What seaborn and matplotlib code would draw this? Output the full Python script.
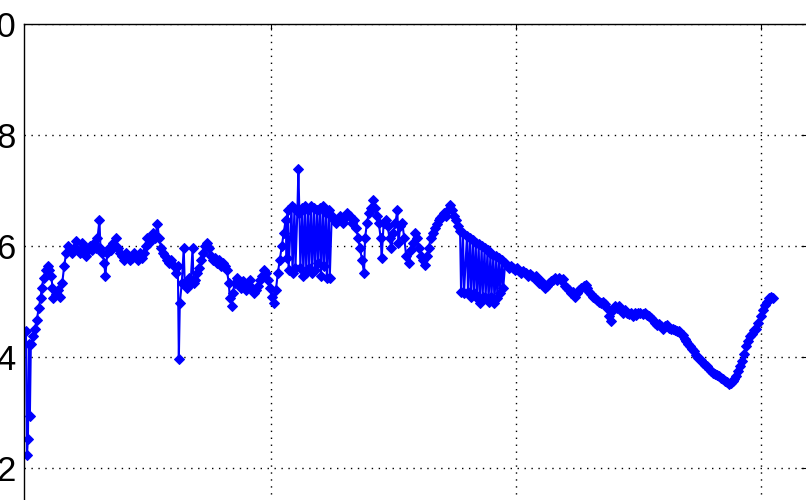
import numpy as np
import pandas as pd
import matplotlib
matplotlib.use("Agg")
import matplotlib.pyplot as plt
import seaborn as sns

# ---- data ----
x1 = [0, 1, 2, 3, 4, 5, 7, 9, 11, 13, 15, 16, 18, 20, 22, 24, 26, 27, 28, 31,
      33, 35, 37, 39, 41, 43, 45, 47, 49, 51, 53, 55, 57, 59, 61, 63, 65, 67, 69, 71,
      73, 75]
y1 = [4.46, 2.23, 2.52, 4.24, 2.94, 4.24, 4.37, 4.51, 4.66, 4.88, 5.06, 5.24, 5.42, 5.57, 5.64, 5.57, 5.46, 5.24, 5.06, 5.13,
      5.20, 5.09, 5.33, 5.64, 5.87, 6.00, 5.93, 5.87, 5.96, 6.09, 5.93, 5.87, 6.05, 5.96, 5.82, 5.93, 6.00, 5.93, 6.05, 5.96,
      6.14, 6.47]

x2 = [76, 78, 80, 81, 83, 85, 87, 89, 92, 94, 96, 98, 100, 102, 104, 106, 108, 110, 112, 114,
      116, 118, 120, 122, 124, 126, 128, 130, 132, 134, 136, 138, 140, 142, 144, 146, 148, 151, 153, 155]
y2 = [5.96, 5.87, 5.69, 5.46, 5.87, 5.96, 5.93, 6.05, 6.14, 5.96, 5.87, 5.82, 5.75, 5.87, 5.82, 5.75, 5.78, 5.87, 5.82, 5.75,
      5.87, 5.78, 5.87, 6.00, 6.14, 6.05, 6.14, 6.24, 6.14, 6.40, 6.14, 5.96, 5.87, 5.82, 5.75, 5.69, 5.75, 5.64, 5.51, 5.64]

x3 = [156, 157, 159, 161, 162, 164, 166, 168, 170, 171, 173, 175, 177, 179, 181, 183, 185, 187, 189, 191,
      193, 195, 197, 199, 201, 203, 205, 207, 208, 210, 211, 213, 215, 217, 219, 221, 223, 225, 227, 229,
      231, 233, 235, 237, 239, 241, 243, 245, 247, 249, 251, 253, 255, 257, 259, 261, 263, 265]
y3 = [3.97, 4.97, 5.33, 5.96, 5.33, 5.24, 5.42, 5.33, 5.96, 5.33, 5.38, 5.51, 5.60, 5.75, 5.87, 6.00, 6.05, 5.96, 5.82, 5.75,
      5.78, 5.69, 5.75, 5.64, 5.69, 5.64, 5.57, 5.33, 5.06, 4.91, 5.15, 5.33, 5.42, 5.33, 5.24, 5.37, 5.29, 5.20, 5.28, 5.38,
      5.24, 5.15, 5.20, 5.28, 5.38, 5.46, 5.57, 5.51, 5.38, 5.24, 5.09, 4.97, 5.20, 5.51, 5.75, 6.00, 6.24, 6.47]

x4 = [266, 267, 268, 271, 272, 274, 275, 277, 278, 279, 280, 282, 283, 285, 286, 288, 289, 291, 292, 294,
      295, 297, 298, 300, 301, 303, 304, 306, 307, 309, 310, 312]
y4 = [5.78, 6.65, 5.57, 6.72, 5.51, 6.69, 5.60, 6.65, 7.38, 6.60, 5.60, 6.69, 5.46, 6.72, 5.51, 6.65, 5.60, 6.72, 5.51, 6.69,
      5.57, 6.65, 5.69, 6.69, 5.46, 6.72, 5.64, 6.60, 5.42, 6.65, 5.42, 6.54]

x5 = [314, 316, 318, 320, 322, 324, 326, 328, 331, 333, 335, 337, 339, 341, 343, 345, 346, 348, 350, 352,
      354, 356, 358, 360, 362, 363, 365, 367, 369, 371, 373, 375, 377, 379, 380, 382, 384, 386, 388, 391,
      393, 395, 397, 399, 401, 403, 405, 407, 409, 411, 413, 415, 417, 419, 421, 423, 425, 427, 429, 431,
      433, 435, 437, 439, 441]
y5 = [6.47, 6.42, 6.47, 6.54, 6.47, 6.42, 6.51, 6.60, 6.54, 6.42, 6.47, 6.33, 6.14, 5.96, 5.75, 5.51, 6.14, 6.42, 6.60, 6.69,
      6.82, 6.69, 6.54, 6.42, 6.14, 5.78, 6.42, 6.47, 6.36, 6.14, 5.96, 6.24, 6.42, 6.65, 6.05, 6.36, 6.42, 6.14, 5.82, 5.69,
      5.93, 6.05, 6.24, 6.14, 5.96, 5.82, 5.75, 5.66, 5.82, 5.96, 6.14, 6.24, 6.33, 6.40, 6.47, 6.51, 6.54, 6.60, 6.54, 6.65,
      6.74, 6.65, 6.54, 6.47, 6.36]

x6 = [443, 444, 446, 447, 450, 451, 453, 454, 456, 457, 459, 460, 462, 463, 465, 466, 468, 469, 471, 472,
      474, 475, 477, 478, 480, 481, 483, 484, 486, 487, 489]
y6 = [6.27, 5.18, 6.24, 5.15, 6.18, 5.18, 6.14, 5.09, 6.11, 5.15, 6.05, 5.06, 6.04, 4.97, 6.00, 5.09, 5.96, 5.06, 5.93, 5.00,
      5.87, 5.09, 5.84, 4.97, 5.82, 5.06, 5.78, 5.15, 5.75, 5.24, 5.69]

x7 = [491, 493, 495, 497, 499, 501, 503, 505, 507, 510, 512, 514, 516, 518, 520, 522, 524, 526, 528, 530,
      532, 534, 536, 538, 540, 542, 544, 546, 548, 550, 552, 554, 556, 558, 560, 562, 564]
y7 = [5.66, 5.60, 5.64, 5.60, 5.57, 5.60, 5.55, 5.51, 5.55, 5.51, 5.46, 5.49, 5.46, 5.42, 5.46, 5.38, 5.33, 5.37, 5.29, 5.24,
      5.28, 5.33, 5.37, 5.38, 5.42, 5.38, 5.42, 5.38, 5.40, 5.28, 5.24, 5.20, 5.15, 5.18, 5.09, 5.15, 5.20]

x8 = [566, 569, 571, 573, 575, 577, 579, 581, 583, 585, 587, 589, 591, 593, 595, 597, 599, 601, 603, 605,
      607, 609, 611, 613, 615, 617, 619, 621, 623, 625, 627, 630, 632, 634, 636, 638, 640, 642, 644, 646,
      648, 650, 652, 654, 656, 658, 660, 662, 664, 666, 668, 670, 672]
y8 = [5.24, 5.28, 5.29, 5.24, 5.18, 5.13, 5.09, 5.06, 5.02, 5.00, 4.97, 5.00, 4.95, 4.88, 4.73, 4.64, 4.84, 4.91, 4.88, 4.91,
      4.84, 4.80, 4.84, 4.79, 4.77, 4.80, 4.73, 4.79, 4.75, 4.79, 4.80, 4.77, 4.79, 4.75, 4.73, 4.70, 4.66, 4.61, 4.57, 4.59,
      4.55, 4.51, 4.55, 4.57, 4.53, 4.51, 4.50, 4.48, 4.46, 4.46, 4.42, 4.39, 4.33]

x9 = [674, 676, 678, 680, 682, 684, 686, 689, 691, 693, 695, 697, 699, 701, 703, 705, 707, 709, 711, 713,
      715, 717, 719, 721, 723, 725, 727, 729, 731, 733, 735, 737, 739, 741, 743, 745, 747, 750, 752, 754,
      756, 758, 760, 762]
y9 = [4.28, 4.24, 4.19, 4.15, 4.10, 4.04, 3.99, 3.95, 3.90, 3.86, 3.83, 3.79, 3.75, 3.72, 3.70, 3.68, 3.66, 3.63, 3.60, 3.57,
      3.55, 3.52, 3.54, 3.57, 3.61, 3.66, 3.74, 3.83, 3.93, 4.06, 4.19, 4.28, 4.37, 4.42, 4.48, 4.51, 4.61, 4.73, 4.84, 4.93,
      5.00, 5.06, 5.09, 5.06]

x_ticks = [250, 500, 750]
y_ticks = [2, 4, 6, 8, 10]

xs = x1 + x2 + x3 + x4 + x5 + x6 + x7 + x8 + x9
ys = y1 + y2 + y3 + y4 + y5 + y6 + y7 + y8 + y9
df = pd.DataFrame({"t": xs, "v": ys})

sns.set_style("white")
plt.rcParams["font.family"] = ["Liberation Sans", "DejaVu Sans"]

fig = plt.figure(figsize=(8.06, 5.0), dpi=100)
# the reference is a crop: the axes box runs past the bottom and right edges
ax = fig.add_axes([24 / 806, (500 - 579) / 500, 783 / 806, 555 / 500])

sns.lineplot(data=df, x="t", y="v", ax=ax, sort=False, estimator=None,
             color="#0000ff", linewidth=1.5, marker="D", markersize=5.2,
             markeredgecolor="#0000ff", markerfacecolor="#0000ff")

ax.set_xlim(-2, 797)
ax.set_ylim(0, 10)
ax.set_xticks(x_ticks)
ax.set_yticks(y_ticks)
ax.set_xticklabels([])
ax.set_yticklabels([str(v) for v in y_ticks])
ax.set_xlabel("")
ax.set_ylabel("")
ax.grid(True, color="black", linestyle=(0, (1, 4)), linewidth=1.0)
ax.set_axisbelow(True)
ax.tick_params(direction="in", length=4.5, width=0.8, top=True, right=True,
               labelsize=25, colors="black", pad=6)
for s in ax.spines.values():
    s.set_color("black")
    s.set_linewidth(1.0)
    s.set_visible(True)

fig.savefig("out.png", dpi=100)
